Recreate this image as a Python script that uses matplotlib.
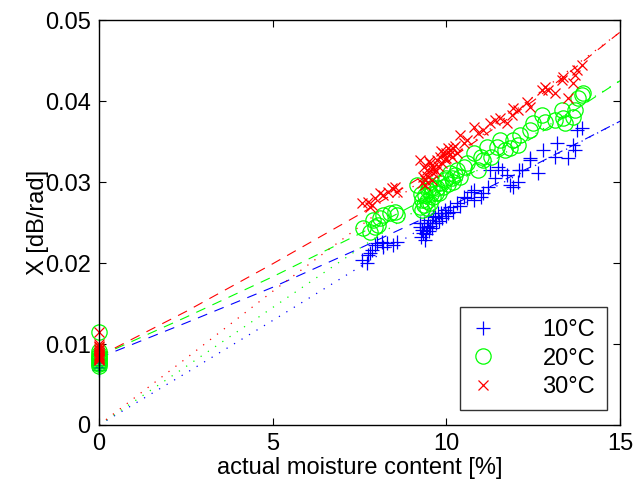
import numpy as np
import matplotlib
matplotlib.use("Agg")
import matplotlib.pyplot as plt

plt.rcParams['font.family'] = ['Liberation Sans', 'DejaVu Sans']

# measured points, 10 degC
x10 = [0, 0, 0, 0, 0, 0, 0, 0,
       7.57, 7.72, 7.75, 7.86, 7.95, 8.15, 8.18, 8.29, 8.47, 8.58, 8.0, 7.8,
       9.24, 9.33, 9.39, 9.47, 9.59, 9.67, 9.76, 9.88, 9.96, 10.1, 10.2, 10.3, 10.5,
       10.6, 10.7, 10.8, 11.0, 11.05, 9.3, 9.44, 9.35, 9.5, 9.62, 9.8, 10.0, 10.4,
       9.28, 9.42, 9.52, 9.7, 9.85, 10.05, 9.6, 9.25,
       11.2, 11.26, 11.4, 11.6, 11.75, 11.83, 11.92, 12.06, 12.18, 12.4, 12.64, 12.78,
       13.13, 13.2, 13.5, 13.65, 13.7, 13.76, 13.9, 10.8, 11.5, 12.1, 12.4]
y10 = [0.0068, 0.0070, 0.0072, 0.0074, 0.0076, 0.0078, 0.0080, 0.0082,
       0.0204, 0.0200, 0.0210, 0.0216, 0.0222, 0.0226, 0.0220, 0.0225, 0.0222, 0.0226, 0.0225, 0.0212,
       0.0244, 0.0237, 0.0228, 0.0253, 0.0249, 0.0257, 0.0262, 0.0256, 0.0265, 0.0269, 0.0263, 0.0274, 0.0281,
       0.0280, 0.0288, 0.0278, 0.0281, 0.0286, 0.0241, 0.0244, 0.0250, 0.0240, 0.0258, 0.0252, 0.0258, 0.0270,
       0.0232, 0.0236, 0.0246, 0.0250, 0.0262, 0.0262, 0.0243, 0.0250,
       0.0294, 0.0315, 0.0305, 0.0315, 0.0309, 0.0296, 0.0294, 0.0300, 0.0315, 0.0330, 0.0311, 0.0340,
       0.0331, 0.0348, 0.0330, 0.0346, 0.0340, 0.0364, 0.0367, 0.0290, 0.0319, 0.0315, 0.0327]

# measured points, 20 degC
x20 = [0, 0, 0, 0, 0, 0, 0, 0, 0, 0,
       7.6, 7.8, 7.9, 7.95, 8.03, 8.09, 8.18, 8.38, 8.52, 8.58,
       9.15, 9.24, 9.3, 9.39, 9.44, 9.47, 9.53, 9.62, 9.73, 9.82, 9.9, 10.0, 10.1, 10.2,
       10.3, 10.4, 10.5, 10.6, 10.8, 10.9, 11.0, 9.35, 9.55, 9.7, 10.05, 10.25,
       9.28, 9.45, 9.6, 9.78, 9.95, 10.15, 9.5, 9.3,
       11.05, 11.17, 11.3, 11.46, 11.55, 11.7, 11.83, 11.92, 12.06, 12.12, 12.4, 12.5,
       12.75, 12.84, 13.13, 13.33, 13.36, 13.42, 13.65, 13.7, 13.8, 13.9, 13.93]
y20 = [0.0073, 0.0075, 0.0077, 0.0079, 0.0081, 0.0083, 0.0085, 0.0088, 0.0091, 0.0115,
       0.0243, 0.0238, 0.0253, 0.0244, 0.0247, 0.0256, 0.0259, 0.0262, 0.0263, 0.0259,
       0.0296, 0.0269, 0.0278, 0.0284, 0.0268, 0.0290, 0.0274, 0.0281, 0.0293, 0.0299, 0.0294, 0.0305, 0.0311, 0.0300,
       0.0315, 0.0306, 0.0319, 0.0323, 0.0336, 0.0315, 0.0331, 0.0272, 0.0285, 0.0287, 0.0298, 0.0309,
       0.0285, 0.0277, 0.0292, 0.0286, 0.0302, 0.0305, 0.0296, 0.0265,
       0.0327, 0.0343, 0.0331, 0.0343, 0.0352, 0.0340, 0.0342, 0.0352, 0.0346, 0.0358, 0.0364, 0.0373,
       0.0383, 0.0374, 0.0377, 0.0389, 0.0379, 0.0373, 0.0380, 0.0389, 0.0404, 0.0407, 0.0410]

# measured points, 30 degC
x30 = [0, 0, 0, 0, 0, 0, 0, 0, 0, 0, 0, 0, 0, 0, 0,
       7.57, 7.75, 7.8, 7.86, 7.95, 8.09, 8.18, 8.32, 8.44, 8.52, 8.58,
       9.24, 9.3, 9.33, 9.39, 9.44, 9.53, 9.62, 9.62, 9.73, 9.82, 9.88, 9.9, 10.0, 10.0,
       10.1, 10.15, 10.2, 10.3, 10.4, 10.5, 10.6, 10.8, 10.9, 9.45, 9.6, 9.75, 9.95, 10.1,
       9.35, 9.5, 9.7, 9.85, 10.05, 10.25, 9.4, 9.58,
       11.05, 11.26, 11.4, 11.55, 11.75, 11.9, 11.92, 12.06, 12.32, 12.4, 12.75, 12.84,
       12.93, 13.13, 13.33, 13.36, 13.5, 13.65, 13.7, 13.76, 13.9]
y30 = [0.0080, 0.0081, 0.0082, 0.0083, 0.0084, 0.0085, 0.0086, 0.0088, 0.0090, 0.0092,
       0.0094, 0.0096, 0.0098, 0.0100, 0.0115,
       0.0274, 0.0275, 0.0269, 0.0272, 0.0280, 0.0286, 0.0284, 0.0288, 0.0293, 0.0294, 0.0288,
       0.0327, 0.0299, 0.0306, 0.0302, 0.0315, 0.0323, 0.0319, 0.0311, 0.0327, 0.0331, 0.0323, 0.0336, 0.0336, 0.0330,
       0.0340, 0.0331, 0.0342, 0.0336, 0.0358, 0.0348, 0.0352, 0.0368, 0.0360, 0.0308, 0.0316, 0.0320, 0.0328, 0.0334,
       0.0318, 0.0326, 0.0313, 0.0338, 0.0342, 0.0345, 0.0296, 0.0303,
       0.0364, 0.0373, 0.0377, 0.0379, 0.0373, 0.0383, 0.0391, 0.0389, 0.0399, 0.0393, 0.0414, 0.0417,
       0.0414, 0.0410, 0.0426, 0.0430, 0.0404, 0.0422, 0.0432, 0.0438, 0.0444]

# model curves
fit_x = [0, 2.5, 5, 7.5, 10, 12.5, 15]
dash10 = [0.0083, 0.0126, 0.0170, 0.0218, 0.0268, 0.0320, 0.0375]
dash20 = [0.0085, 0.0133, 0.0183, 0.0236, 0.0293, 0.0355, 0.0425]
dash30 = [0.0085, 0.0140, 0.0199, 0.0260, 0.0325, 0.0400, 0.0485]
dot10 = [0, 0.0064, 0.0129, 0.0195, 0.0262, 0.0319, 0.0375]
dot20 = [0, 0.0072, 0.0145, 0.0218, 0.0290, 0.0358, 0.0425]
dot30 = [0, 0.0082, 0.0165, 0.0245, 0.0325, 0.0405, 0.0485]

labels = ['10°C', '20°C', '30°C']
colors = ['#0000ff', '#00ff00', '#ff0000']

fig = plt.figure(figsize=(6.44, 4.88), dpi=100)
ax = fig.add_axes([0.1537, 0.1291, 0.8090, 0.8299])

series = [(x10, y10, '+', 10), (x20, y20, 'o', 11), (x30, y30, 'x', 7.5)]
for (xs, ys, m, ms), lab, c in zip(series, labels, colors):
    ax.plot(xs, ys, linestyle='none', marker=m, markersize=ms,
            markerfacecolor='none', markeredgecolor=c, markeredgewidth=0.9,
            label=lab, clip_on=False, zorder=3)

for d, c in zip([dash10, dash20, dash30], colors):
    ax.plot(fit_x, d, color=c, lw=0.8, dashes=(9, 7))
for d, c in zip([dot10, dot20, dot30], colors):
    ax.plot(fit_x, d, color=c, lw=0.9, linestyle=(0, (1, 6)))

ax.set_xlim(0, 15)
ax.set_ylim(0, 0.05)
ax.set_xticks([0, 5, 10, 15])
ax.set_yticks([0, 0.01, 0.02, 0.03, 0.04, 0.05])
ax.set_yticklabels(['0', '0.01', '0.02', '0.03', '0.04', '0.05'])
ax.tick_params(direction='in', top=True, right=True, length=5, width=0.8,
               labelsize=17, pad=6)
for s in ax.spines.values():
    s.set_linewidth(1.0)
    s.set_zorder(4)

ax.set_xlabel('actual moisture content [%]', fontsize=17, labelpad=1)
ax.set_ylabel('X [dB/rad]', fontsize=17, labelpad=-3)

leg = ax.legend(loc='lower right', bbox_to_anchor=(0.975, 0.037), fontsize=17,
                frameon=True, fancybox=False, edgecolor='black',
                handlelength=1.0, handletextpad=2.0, borderpad=0.5,
                labelspacing=0.28, borderaxespad=0)
leg.get_frame().set_linewidth(1.0)
leg.set_zorder(5)

fig.savefig('out.png', dpi=100)
